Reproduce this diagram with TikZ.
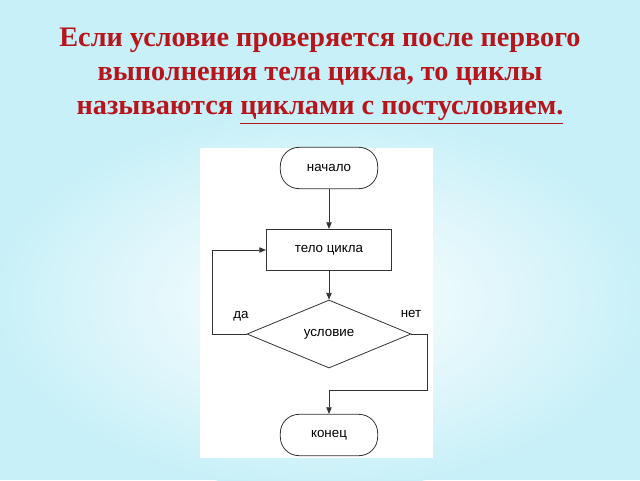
\documentclass[tikz,border=0pt]{standalone}
\usepackage{fontspec}
\setmainfont{Liberation Serif}
\newfontfamily\flowfont{Liberation Sans}
\usetikzlibrary{shapes.geometric,arrows.meta}
\definecolor{titlered}{HTML}{B8141B}
\definecolor{bgcyan}{HTML}{C8F0F8}
\definecolor{linegray}{HTML}{333333}
\tikzset{
  every node/.style={inner sep=0pt},
  term/.style={draw=linegray, line width=0.6pt, rounded corners=14pt, minimum width=73pt, minimum height=31pt, font=\flowfont\fontsize{10}{12}\selectfont, fill=white},
  proc/.style={draw=linegray, line width=0.6pt, minimum width=94pt, minimum height=31pt, font=\flowfont\fontsize{10}{12}\selectfont, fill=white},
  dec/.style={draw=linegray, line width=0.6pt, diamond, aspect=2.4, minimum width=123pt, minimum height=51pt, font=\flowfont\fontsize{10}{12}\selectfont, fill=white},
  conn/.style={draw=linegray, line width=0.6pt},
  arr/.style={conn, -{Triangle[length=5pt,width=4pt]}},
  lbl/.style={font=\flowfont\fontsize{10}{12}\selectfont},
}
\begin{document}
\begin{tikzpicture}[x=0.75pt,y=-0.75pt]
\useasboundingbox (0,0) rectangle (640,480);
\fill[bgcyan] (0,0) rectangle (640,480);
\shade[inner color=white, outer color=bgcyan] (320,300) ellipse (330 and 190);
\fill[white] (200,148) rectangle (433,458);
\node[font=\bfseries\fontsize{21.2}{25.5}\selectfont, text=titlered, align=center] (title) at (320,76)
  {Если условие проверяется после первого\\выполнения тела цикла, то циклы\\называются \underline{циклами с постусловием.}};
\node[term] (start) at (329,168) {начало};
\node[proc] (body) at (329,250) {тело цикла};
\node[dec] (cond) at (329,334) {условие};
\node[term] (end) at (329,435) {конец};
\coordinate (yes1) at (212,334);
\coordinate (yes2) at (212,250);
\coordinate (no1) at (427,334);
\coordinate (no2) at (427,390);
\coordinate (no3) at (329,390);
\draw[arr] (start) -- (body);
\draw[arr] (body) -- (cond);
\draw[arr] (cond.west) -- (yes1) -- (yes2) -- (body.west);
\draw[conn] (cond.east) -- (no1) -- (no2) -- (no3);
\draw[arr] (no3) -- (end.north);
\node[lbl] (yes) at (241,316) {да};
\node[lbl] (no) at (411,314) {нет};
\end{tikzpicture}
\end{document}
